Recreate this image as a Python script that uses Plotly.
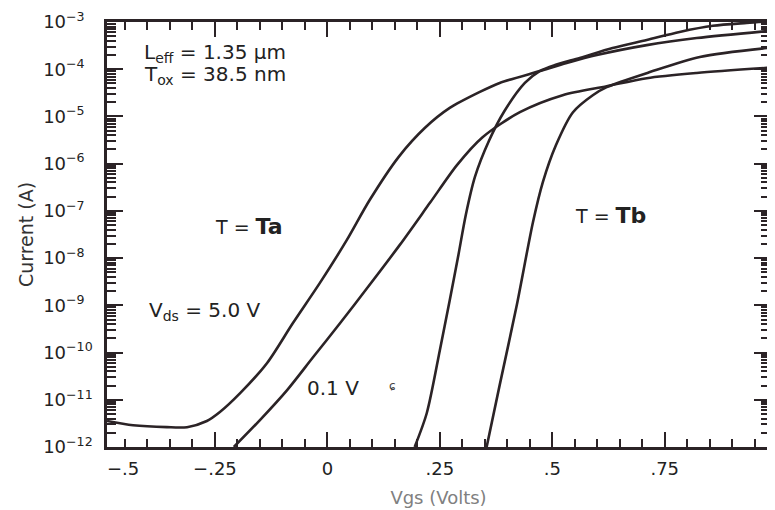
import plotly.graph_objects as go

# Vgs (V) and log10 of drain current (A)
ta_5v_vgs = [-0.49, -0.432, -0.357, -0.312, -0.268, -0.239, -0.194, -0.134, -0.077, -0.017, 0.043, 0.094, 0.159, 0.217, 0.272, 0.339, 0.383, 0.472, 0.532, 0.599, 0.71, 0.821, 0.979]
ta_5v_log = [-11.45, -11.54, -11.58, -11.58, -11.45, -11.26, -10.86, -10.22, -9.38, -8.53, -7.62, -6.77, -5.85, -5.24, -4.82, -4.48, -4.29, -4.04, -3.87, -3.70, -3.49, -3.34, -3.19]

ta_01v_vgs = [-0.208, -0.15, -0.09, -0.032, 0.028, 0.088, 0.161, 0.228, 0.288, 0.345, 0.428, 0.523, 0.621, 0.71, 0.821, 0.979]
ta_01v_log = [-12.0, -11.43, -10.80, -10.10, -9.38, -8.64, -7.72, -6.83, -6.03, -5.44, -4.91, -4.55, -4.36, -4.19, -4.08, -3.97]

tb_5v_vgs = [0.194, 0.221, 0.25, 0.272, 0.29, 0.308, 0.328, 0.359, 0.394, 0.439, 0.472, 0.506, 0.561, 0.634, 0.71, 0.783, 0.857, 0.932, 0.979]
tb_5v_log = [-12.0, -11.28, -9.95, -8.89, -8.0, -7.07, -6.28, -5.52, -4.88, -4.29, -4.04, -3.91, -3.76, -3.55, -3.38, -3.21, -3.08, -3.02, -2.99]

tb_01v_vgs = [0.354, 0.383, 0.421, 0.457, 0.479, 0.508, 0.546, 0.59, 0.621, 0.717, 0.828, 0.979]
tb_01v_log = [-12.0, -10.69, -9.0, -7.24, -6.39, -5.61, -4.91, -4.55, -4.38, -4.06, -3.74, -3.55]

x_tick_vals = [-0.25, 0, 0.25, 0.5, 0.75]
x_tick_text = ["\u2212.25", "0", ".25", ".5", ".75"]
y_exponents = [-12, -11, -10, -9, -8, -7, -6, -5, -4, -3]

LINE = "#2b2326"
FONT = "DejaVu Sans, Verdana, sans-serif"
TXT = "#222222"


def y_label(e):
    pad = "" if e <= -10 else "\u2007"
    return "10<sup>\u2212%d%s</sup>" % (-e, pad)


fig = go.Figure()
for xs, ls in [(ta_5v_vgs, ta_5v_log), (ta_01v_vgs, ta_01v_log),
               (tb_5v_vgs, tb_5v_log), (tb_01v_vgs, tb_01v_log)]:
    fig.add_trace(go.Scatter(
        x=xs, y=[10 ** v for v in ls], mode="lines",
        line=dict(color=LINE, width=2.6, shape="spline", smoothing=0.8),
        showlegend=False, hoverinfo="skip"))

# the page body has an 8 px margin, so the figure is 8 px smaller each way
fig.update_layout(
    width=767, height=502,
    margin=dict(l=99, r=5, t=14, b=63),
    paper_bgcolor="white", plot_bgcolor="white",
    font=dict(family=FONT, color=TXT, size=16),
    xaxis=dict(
        range=[-0.49, 0.984], showgrid=False, zeroline=False, automargin=False,
        showline=True, linecolor=LINE, linewidth=2.5, mirror="ticks",
        ticks="inside", ticklen=15, tickwidth=1.6, tickcolor=LINE,
        tickmode="array", tickvals=x_tick_vals, ticktext=x_tick_text,
        tickfont=dict(size=18, color=TXT), ticklabelstandoff=4,
        minor=dict(ticks="inside", ticklen=8, tickwidth=1.5, tickcolor=LINE,
                   dtick=0.05, tick0=0, showgrid=False),
        title=dict(text="Vgs (Volts)", font=dict(size=18, color="#808080"), standoff=14),
    ),
    yaxis=dict(
        type="log", range=[-12, -3], showgrid=False, zeroline=False, automargin=False,
        showline=True, linecolor=LINE, linewidth=2.5, mirror="ticks",
        ticks="inside", ticklen=16, tickwidth=1.6, tickcolor=LINE,
        tickmode="array", tickvals=[10 ** e for e in y_exponents],
        ticktext=[y_label(e) for e in y_exponents],
        tickfont=dict(size=18, color=TXT),
        ticklabelstandoff=8,
        minor=dict(ticks="inside", ticklen=9, tickwidth=1.5, tickcolor=LINE,
                   dtick="D1", showgrid=False),
        title=dict(text="Current (A)", font=dict(size=19, color="#333333"), standoff=5),
    ),
)

notes = [
    (-0.412, -3.66, "L<sub>eff</sub> = 1.35 \u03bcm", 20),
    (-0.412, -4.12, "T<sub>ox</sub> = 38.5 nm", 20),
    (-0.254, -7.32, "T = <b><span style='font-size:22px'>Ta</span></b>", 19),
    (-0.401, -9.12, "V<sub>ds</sub> = 5.0 V", 20),
    (-0.05, -10.75, "0.1 V", 20),
    (0.546, -7.09, "T = <b><span style='font-size:22px'>Tb</span></b>", 19),
]
for x, y, t, s in notes:
    fig.add_annotation(x=x, y=y, xref="x", yref="y", text=t, showarrow=False,
                       xanchor="left", yanchor="middle",
                       font=dict(family=FONT, size=s, color=TXT))
# the "-.5" label sits right of the axis corner in the original
fig.add_annotation(x=-0.455, y=0, xref="x", yref="paper", yshift=-21,
                   text="\u2212.5", showarrow=False, xanchor="center", yanchor="middle",
                   font=dict(family=FONT, size=18, color=TXT))
fig.add_annotation(x=0.145, y=-10.70, xref="x", yref="y", text="\u0255", showarrow=False,
                   font=dict(family=FONT, size=12, color="#444444"))

fig.write_html("out.html")
